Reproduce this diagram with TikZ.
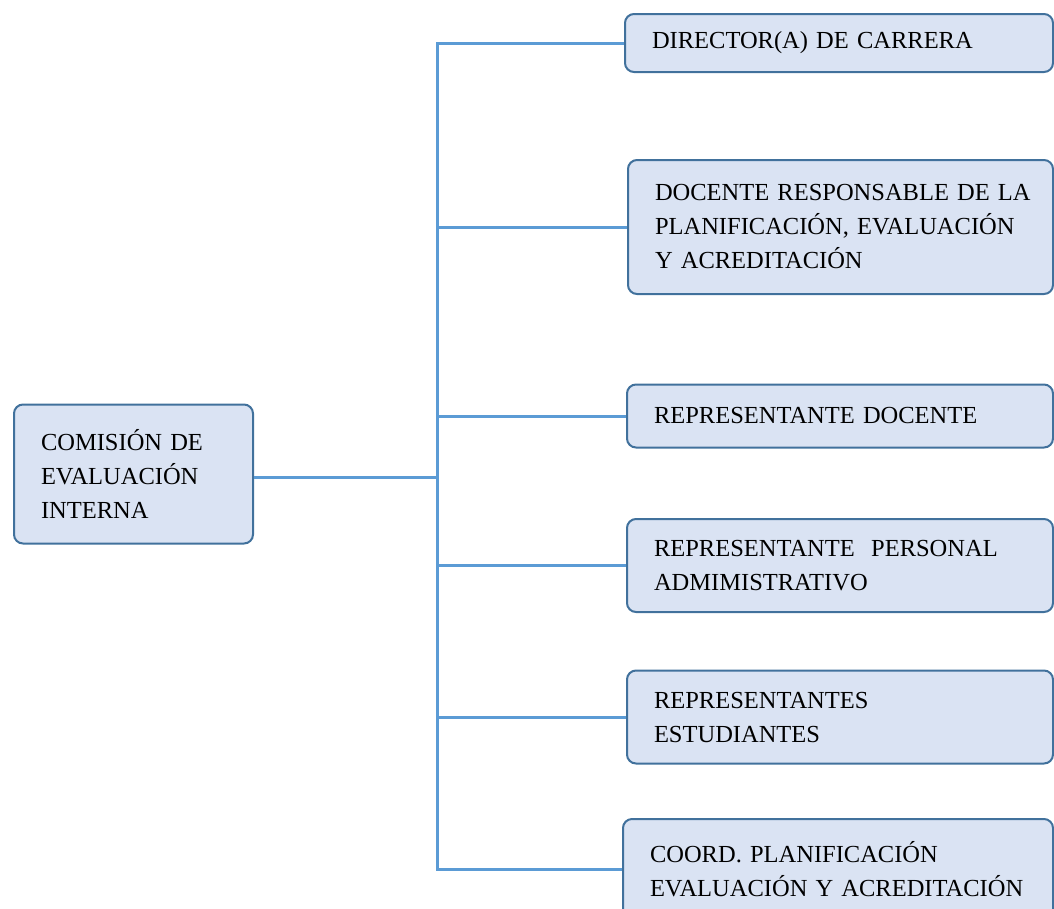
\documentclass[tikz,border=0pt]{standalone}
\usepackage{fontspec}
\setmainfont{Liberation Serif}
\usetikzlibrary{positioning}
\definecolor{boxfill}{HTML}{DAE3F3}
\definecolor{boxline}{HTML}{41719C}
\definecolor{linkblue}{HTML}{5B9BD5}

\begin{document}
\begin{tikzpicture}[x=1pt,y=-1pt,
  box/.style={draw=boxline, fill=boxfill, line width=2pt, rounded corners=9pt,
    anchor=west, align=left, inner xsep=27pt, text=black,
    font=\fontsize{24.5}{34}\selectfont},
  branch/.style={draw=linkblue, line width=3pt}]
\useasboundingbox (0,0) rectangle (1054,908);
\clip (0,0) rectangle (1054,908);

% main box
\node[box, text width=185pt, minimum height=139pt] (comision) at (13,474)
  {COMISIÓN DE\\EVALUACIÓN\\INTERNA};

% members
\node[box, text width=374pt, minimum height=58pt] (director) at (624,43)
  {DIRECTOR(A) DE CARRERA};
\node[box, text width=371pt, minimum height=134pt] (docente) at (627,227)
  {\mbox{DOCENTE RESPONSABLE DE LA}\\\mbox{PLANIFICACIÓN, EVALUACIÓN}\\Y ACREDITACIÓN};
\node[box, text width=372pt, minimum height=63pt] (repdocente) at (626,416)
  {REPRESENTANTE DOCENTE};
\node[box, text width=372pt, minimum height=93pt] (personal) at (626,565.5)
  {\mbox{REPRESENTANTE~ PERSONAL}\\ADMIMISTRATIVO};
\node[box, text width=372pt, minimum height=93pt] (estudiantes) at (626,717)
  {REPRESENTANTES\\ESTUDIANTES};
\node[box, text width=376pt, minimum height=100pt] (coord) at (622,869)
  {COORD. PLANIFICACIÓN\\\mbox{EVALUACIÓN Y ACREDITACIÓN}};

% connectors
\coordinate (hub) at (437,477);
\draw[branch] (comision.east |- hub) -- (hub);
\draw[branch] (director.west) -| (hub) |- (coord.west);
\foreach \member in {docente,repdocente,personal,estudiantes}
  \draw[branch] (hub |- \member.west) -- (\member.west);
\end{tikzpicture}
\end{document}
